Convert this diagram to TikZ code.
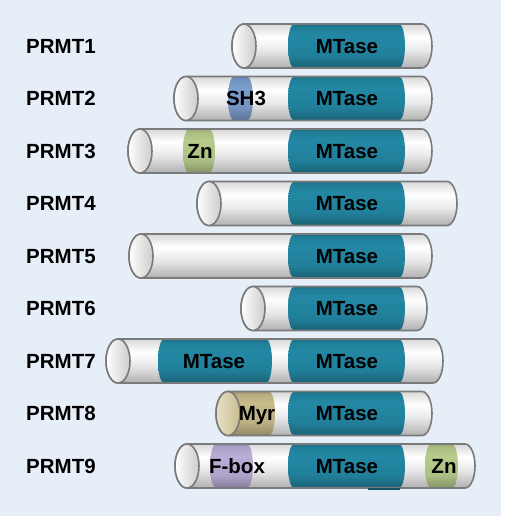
\documentclass[tikz,border=0pt]{standalone}
\usepackage{fontspec}
\setmainfont{Liberation Sans}
\usepackage{xcolor}
\usepackage{tikz}
\usetikzlibrary{shadings}

\definecolor{bgblue}{RGB}{230,238,248}
\definecolor{mtase}{RGB}{35,136,164}
\definecolor{sh3}{RGB}{124,158,206}
\definecolor{zn}{RGB}{184,204,140}
\definecolor{myr}{RGB}{200,188,140}
\definecolor{fbox}{RGB}{186,174,216}
\definecolor{rimgray}{RGB}{122,122,122}

\pgfdeclareverticalshading{bodyshade}{100bp}{color(0bp)=(gray!62); color(25bp)=(gray!62);
  color(45bp)=(gray!18); color(60bp)=(white); color(75bp)=(gray!30); color(100bp)=(gray!30)}
% band shading for a domain colour: name, colour
\newcommand{\bandshade}[2]{%
  \pgfdeclareverticalshading{#1}{100bp}{color(0bp)=(#2!72!black); color(25bp)=(#2!72!black);
    color(40bp)=(#2!94!black); color(62bp)=(#2); color(72bp)=(#2!92!black);
    color(75bp)=(#2!80!black); color(100bp)=(#2!80!black)}}
\bandshade{mtshade}{mtase}
\bandshade{shshade}{sh3}
\bandshade{znshade}{zn}
\bandshade{myrshade}{myr}
\bandshade{fbshade}{fbox}

% cylinder body: y, left end, right end
\newcommand{\cylbody}[3]{%
  \path[shading=bodyshade] (#2+12,#1+22) -- (#3-10,#1+22)
    arc[start angle=90,end angle=-90,x radius=10,y radius=22] -- (#2+12,#1-22)
    arc[start angle=270,end angle=90,x radius=12,y radius=22] -- cycle;}
% outline and left cap: y, left end, right end, cap style
\newcommand{\cylrim}[4]{%
  \draw[rim] (#2+12,#1+22) -- (#3-10,#1+22)
    arc[start angle=90,end angle=-90,x radius=10,y radius=22] -- (#2+12,#1-22)
    arc[start angle=270,end angle=90,x radius=12,y radius=22] -- cycle;
  \draw[rim,#4] (#2+12,#1) ellipse [x radius=12,y radius=22];}
% domain band: style, y, from, to
\newcommand{\domain}[4]{%
  \path[#1] (#3+6,#2+22) -- (#4-6,#2+22)
    arc[start angle=90,end angle=-90,x radius=6,y radius=22] -- (#3+6,#2-22)
    arc[start angle=270,end angle=90,x radius=6,y radius=22] -- cycle;}

\tikzset{
  rim/.style={draw=rimgray, line width=1.6pt},
  capfill/.style={left color=white, right color=gray!40},
  mtasebox/.style={shading=mtshade},
  sh3box/.style={shading=shshade},
  znbox/.style={shading=znshade},
  myrbox/.style={shading=myrshade},
  fboxbox/.style={shading=fbshade},
  lbl/.style={anchor=west, inner sep=0pt, text height=14.7pt, text depth=0pt,
    font=\fontsize{20.5}{24}\selectfont\bfseries},
  dlbl/.style={inner sep=0pt, text height=14.7pt, text depth=0pt,
    font=\fontsize{20.5}{24}\selectfont\bfseries}
}

\begin{document}
\begin{tikzpicture}[x=1pt,y=1pt]
  \useasboundingbox (0,0) rectangle (505,-520);
  \fill[bgblue] (0,0) rectangle (501,-516);

  % PRMT1
  \cylbody{-46}{232}{432}
  \domain{mtasebox}{-46}{288}{405}
  \cylrim{-46}{232}{432}{capfill}
  \node[lbl] (prmt1) at (26,-46) {PRMT1};
  \node[dlbl] (mt1) at (347,-46) {MTase};

  % PRMT2
  \cylbody{-98.5}{174}{432}
  \domain{sh3box}{-98.5}{228}{253}
  \domain{mtasebox}{-98.5}{288}{405}
  \cylrim{-98.5}{174}{432}{capfill}
  \node[lbl] (prmt2) at (26,-98.5) {PRMT2};
  \node[dlbl] (sh3) at (246,-98.5) {SH3};
  \node[dlbl] (mt2) at (347,-98.5) {MTase};

  % PRMT3
  \cylbody{-151}{128}{432}
  \domain{znbox}{-151}{183}{215}
  \domain{mtasebox}{-151}{288}{405}
  \cylrim{-151}{128}{432}{capfill}
  \node[lbl] (prmt3) at (26,-151) {PRMT3};
  \node[dlbl] (zn3) at (200,-151) {Zn};
  \node[dlbl] (mt3) at (347,-151) {MTase};

  % PRMT4
  \cylbody{-203.5}{197}{457}
  \domain{mtasebox}{-203.5}{288}{405}
  \cylrim{-203.5}{197}{457}{capfill}
  \node[lbl] (prmt4) at (26,-203.5) {PRMT4};
  \node[dlbl] (mt4) at (347,-203.5) {MTase};

  % PRMT5
  \cylbody{-256}{129}{432}
  \domain{mtasebox}{-256}{288}{405}
  \cylrim{-256}{129}{432}{capfill}
  \node[lbl] (prmt5) at (26,-256) {PRMT5};
  \node[dlbl] (mt5) at (347,-256) {MTase};

  % PRMT6
  \cylbody{-308.5}{241}{427}
  \domain{mtasebox}{-308.5}{288}{405}
  \cylrim{-308.5}{241}{427}{capfill}
  \node[lbl] (prmt6) at (26,-308.5) {PRMT6};
  \node[dlbl] (mt6) at (347,-308.5) {MTase};

  % PRMT7
  \cylbody{-361}{106}{443}
  \domain{mtasebox}{-361}{158}{272}
  \domain{mtasebox}{-361}{288}{405}
  \cylrim{-361}{106}{443}{capfill}
  \node[lbl] (prmt7) at (26,-361) {PRMT7};
  \node[dlbl] (mt7a) at (214,-361) {MTase};
  \node[dlbl] (mt7b) at (347,-361) {MTase};

  % PRMT8
  \cylbody{-413.5}{216}{432}
  \domain{myrbox}{-413.5}{222}{275}
  \domain{mtasebox}{-413.5}{288}{405}
  \cylrim{-413.5}{216}{432}{left color=myr!45!white, right color=myr}
  \node[lbl] (prmt8) at (26,-413.5) {PRMT8};
  \node[dlbl] (myr) at (257,-413.5) {Myr};
  \node[dlbl] (mt8) at (347,-413.5) {MTase};

  % PRMT9
  \cylbody{-466}{175}{475}
  \domain{fboxbox}{-466}{210}{253}
  \domain{mtasebox}{-466}{288}{405}
  \domain{znbox}{-466}{425}{458}
  \cylrim{-466}{175}{475}{capfill}
  \draw[mtase!60!black, line width=1.2pt] (368,-489) -- (400,-489);
  \node[lbl] (prmt9) at (26,-466) {PRMT9};
  \node[dlbl] (fb) at (237,-466) {F-box};
  \node[dlbl] (mt9) at (347,-466) {MTase};
  \node[dlbl] (zn9) at (444,-466) {Zn};
\end{tikzpicture}
\end{document}
